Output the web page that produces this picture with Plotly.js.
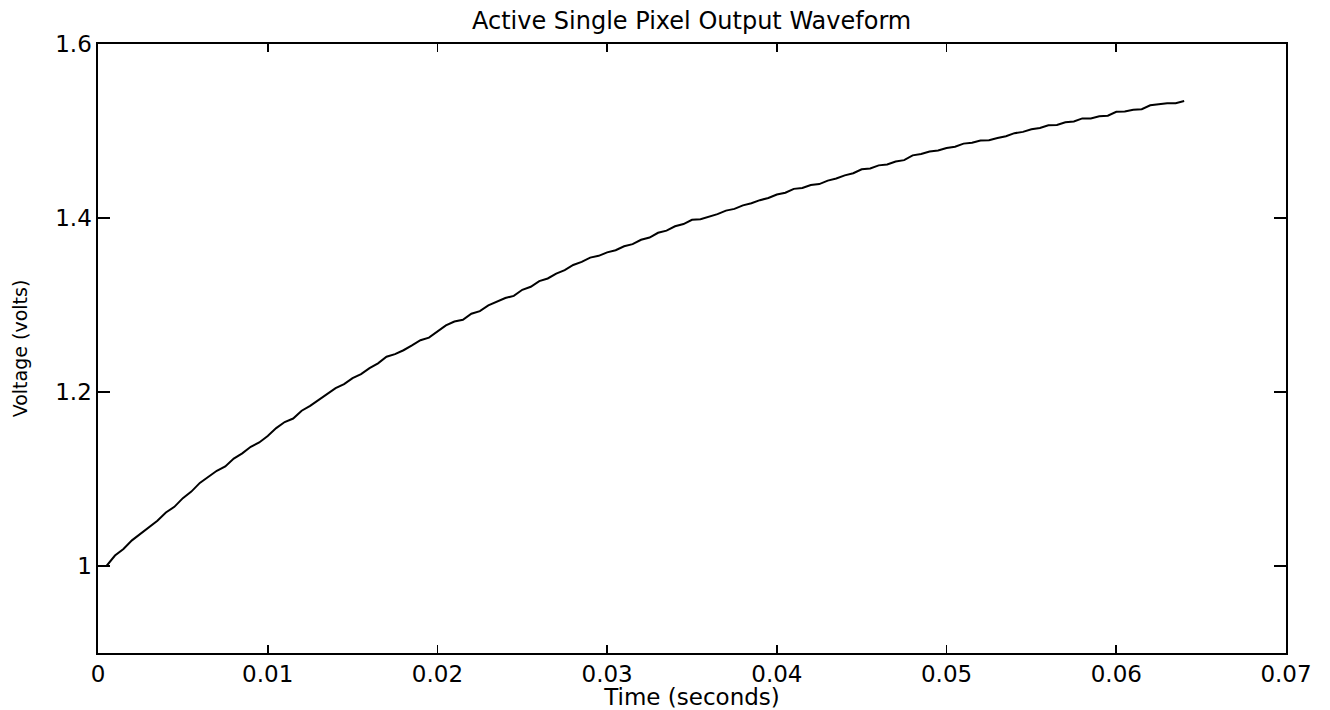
<!DOCTYPE html>
<html>
<head>
<meta charset="utf-8">
<script src="https://cdn.plot.ly/plotly-3.0.1.min.js"></script>
<style>
  html, body { margin: 0; padding: 0; background: #ffffff; }
  #chart { width: 1330px; height: 710px; }
</style>
</head>
<body>
<div id="chart"></div>
<script>
// Time samples (seconds)
const timeSeconds = [
  0.0000, 0.0005, 0.0010, 0.0015, 0.0020, 0.0025, 0.0030, 0.0035, 0.0040, 0.0045,
  0.0050, 0.0055, 0.0060, 0.0065, 0.0070, 0.0075, 0.0080, 0.0085, 0.0090, 0.0095,
  0.0100, 0.0105, 0.0110, 0.0115, 0.0120, 0.0125, 0.0130, 0.0135, 0.0140, 0.0145,
  0.0150, 0.0155, 0.0160, 0.0165, 0.0170, 0.0175, 0.0180, 0.0185, 0.0190, 0.0195,
  0.0200, 0.0205, 0.0210, 0.0215, 0.0220, 0.0225, 0.0230, 0.0235, 0.0240, 0.0245,
  0.0250, 0.0255, 0.0260, 0.0265, 0.0270, 0.0275, 0.0280, 0.0285, 0.0290, 0.0295,
  0.0300, 0.0305, 0.0310, 0.0315, 0.0320, 0.0325, 0.0330, 0.0335, 0.0340, 0.0345,
  0.0350, 0.0355, 0.0360, 0.0365, 0.0370, 0.0375, 0.0380, 0.0385, 0.0390, 0.0395,
  0.0400, 0.0405, 0.0410, 0.0415, 0.0420, 0.0425, 0.0430, 0.0435, 0.0440, 0.0445,
  0.0450, 0.0455, 0.0460, 0.0465, 0.0470, 0.0475, 0.0480, 0.0485, 0.0490, 0.0495,
  0.0500, 0.0505, 0.0510, 0.0515, 0.0520, 0.0525, 0.0530, 0.0535, 0.0540, 0.0545,
  0.0550, 0.0555, 0.0560, 0.0565, 0.0570, 0.0575, 0.0580, 0.0585, 0.0590, 0.0595,
  0.0600, 0.0605, 0.0610, 0.0615, 0.0620, 0.0625, 0.0630, 0.0635, 0.0640
];

// Output voltage (volts)
const voltage = [
  1.0000, 1.0000, 1.0120, 1.0195, 1.0295, 1.0370, 1.0450, 1.0520, 1.0615, 1.0680,
  1.0780, 1.0855, 1.0955, 1.1025, 1.1095, 1.1145, 1.1235, 1.1295, 1.1370, 1.1420,
  1.1495, 1.1585, 1.1655, 1.1695, 1.1785, 1.1840, 1.1905, 1.1980, 1.2045, 1.2090,
  1.2160, 1.2205, 1.2275, 1.2330, 1.2405, 1.2435, 1.2480, 1.2535, 1.2595, 1.2625,
  1.2695, 1.2765, 1.2810, 1.2830, 1.2900, 1.2930, 1.2995, 1.3035, 1.3080, 1.3105,
  1.3175, 1.3210, 1.3275, 1.3305, 1.3360, 1.3400, 1.3460, 1.3495, 1.3545, 1.3565,
  1.3605, 1.3630, 1.3675, 1.3700, 1.3750, 1.3775, 1.3830, 1.3855, 1.3905, 1.3930,
  1.3980, 1.3985, 1.4015, 1.4045, 1.4085, 1.4105, 1.4145, 1.4170, 1.4205, 1.4230,
  1.4270, 1.4290, 1.4335, 1.4345, 1.4380, 1.4390, 1.4430, 1.4455, 1.4490, 1.4515,
  1.4560, 1.4570, 1.4605, 1.4615, 1.4650, 1.4665, 1.4720, 1.4735, 1.4765, 1.4775,
  1.4805, 1.4820, 1.4855, 1.4865, 1.4890, 1.4895, 1.4920, 1.4940, 1.4975, 1.4990,
  1.5020, 1.5035, 1.5065, 1.5070, 1.5100, 1.5110, 1.5145, 1.5145, 1.5170, 1.5175,
  1.5220, 1.5225, 1.5245, 1.5250, 1.5295, 1.5305, 1.5320, 1.5320, 1.5344
];

const xTickValues = [0, 0.01, 0.02, 0.03, 0.04, 0.05, 0.06, 0.07];
const xTickLabels = ['0', '0.01', '0.02', '0.03', '0.04', '0.05', '0.06', '0.07'];
const yTickValues = [1, 1.2, 1.4, 1.6];
const yTickLabels = ['1', '1.2', '1.4', '1.6'];

const fontFamily = '"DejaVu Sans", "Liberation Sans", Arial, sans-serif';

const trace = {
  x: timeSeconds,
  y: voltage,
  type: 'scatter',
  mode: 'lines',
  line: { color: '#000000', width: 2 },
  hoverinfo: 'x+y'
};

const layout = {
  width: 1330,
  height: 710,
  paper_bgcolor: '#ffffff',
  plot_bgcolor: '#ffffff',
  margin: { l: 98, r: 44, t: 44, b: 57 },
  showlegend: false,
  title: {
    text: 'Active Single Pixel Output Waveform',
    font: { family: fontFamily, size: 24, color: '#000000' },
    x: 0.52, xanchor: 'center',
    y: 0.971, yanchor: 'middle'
  },
  xaxis: {
    range: [0, 0.07],
    tickvals: xTickValues,
    ticktext: xTickLabels,
    ticks: 'inside',
    ticklen: 8,
    tickwidth: 1.6,
    tickcolor: '#000000',
    showline: true,
    linecolor: '#000000',
    linewidth: 1.6,
    mirror: 'ticks',
    showgrid: false,
    zeroline: false,
    tickfont: { family: fontFamily, size: 23, color: '#000000' },
    title: {
      text: 'Time (seconds)',
      font: { family: fontFamily, size: 23, color: '#000000' },
      standoff: 0
    }
  },
  yaxis: {
    range: [0.9, 1.6],
    tickvals: yTickValues,
    ticktext: yTickLabels,
    ticks: 'inside',
    ticklen: 12,
    tickwidth: 1.6,
    tickcolor: '#000000',
    showline: true,
    linecolor: '#000000',
    linewidth: 1.6,
    mirror: 'ticks',
    showgrid: false,
    zeroline: false,
    tickfont: { family: fontFamily, size: 23, color: '#000000' },
    title: {
      text: 'Voltage (volts)',
      font: { family: fontFamily, size: 19, color: '#000000' },
      standoff: 22
    }
  }
};

Plotly.newPlot('chart', [trace], layout, { displayModeBar: false, staticPlot: true });
</script>
</body>
</html>
